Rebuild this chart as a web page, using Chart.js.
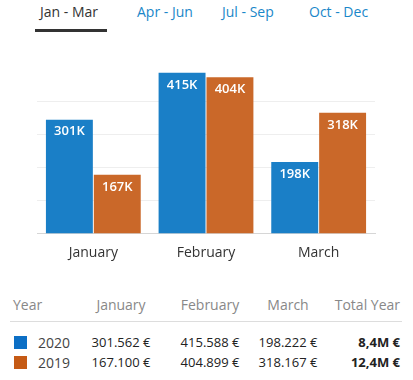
<!DOCTYPE html>
<html>
<head>
<meta charset="utf-8">
<script src="https://cdn.jsdelivr.net/npm/chart.js@4.4.0/dist/chart.umd.min.js"></script>
<style>
  body { margin: 0; width: 413px; height: 380px; background: #fff; font-family: "Open Sans", sans-serif; overflow: hidden; position: relative; }
  .tabs { position: absolute; top: 0; left: 0; width: 413px; height: 34px; }
  .tab { position: absolute; top: 2px; font-size: 14px; color: #1a87c9; white-space: nowrap; }
  .tab.active { color: #333; }
  .tab-line { position: absolute; left: 35px; top: 29px; width: 72px; height: 3px; background: #333; }
  .chart-box { position: absolute; left: 0; top: 40px; width: 413px; height: 224px; }
  table { position: absolute; left: 10px; top: 293px; width: 392px; border-collapse: collapse; table-layout: fixed; font-size: 13px; }
  th { font-weight: normal; font-size: 14px; color: #888; text-align: center; padding: 0 0 6px 0; border-bottom: 1px solid #ddd; height: 22px; }
  th.year { text-align: left; padding-left: 3px; }
  td { text-align: center; color: #222; padding: 0; height: 20px; }
  td.year { text-align: left; color: #444; font-size: 14px; }
  .total { text-align: right; font-weight: bold; padding-right: 2px; }
  tr.first td { padding-top: 10px; }
  .sw { display: inline-block; width: 13px; height: 13px; margin: 0 11px 0 4px; vertical-align: -1px; }
</style>
</head>
<body>
<div class="tabs" id="tabs"></div>
<div class="chart-box"><canvas id="quarterChart"></canvas></div>
<table id="yearTable"></table>
<script>
const tabs = ['Jan - Mar', 'Apr - Jun', 'Jul - Sep', 'Oct - Dec'];
const months = ['January', 'February', 'March'];
const years = ['2020', '2019'];
const values2020 = [301562, 415588, 198222];
const values2019 = [167100, 404899, 318167];
const totals = ['8,4M €', '12,4M €'];
const yTicks = [25000, 105000, 185000, 265000, 345000, 425000];

const barColors = ['#1a7fc7', '#ca6829'];
const swatchColors = ['#0c6fc5', '#c55a15'];

// tabs on top
const tabLeft = [40, 137, 222, 309];
const tabsEl = document.getElementById('tabs');
tabs.forEach((t, i) => {
  const el = document.createElement('div');
  el.className = 'tab' + (i === 0 ? ' active' : '');
  el.style.left = tabLeft[i] + 'px';
  el.textContent = t;
  tabsEl.appendChild(el);
});
const line = document.createElement('div');
line.className = 'tab-line';
tabsEl.appendChild(line);

// white labels inside the bar tops (values are cut, not rounded: 301.562 -> 301K)
const barLabels = {
  id: 'barLabels',
  afterDatasetsDraw(chart) {
    const ctx = chart.ctx;
    ctx.save();
    ctx.fillStyle = '#fff';
    ctx.font = '600 13px "Open Sans", sans-serif';
    ctx.textAlign = 'center';
    ctx.textBaseline = 'middle';
    chart.data.datasets.forEach((ds, di) => {
      chart.getDatasetMeta(di).data.forEach((bar, i) => {
        ctx.fillText(Math.floor(ds.data[i] / 1000) + 'K', bar.x, bar.y + 12);
      });
    });
    ctx.restore();
  }
};

new Chart(document.getElementById('quarterChart'), {
  type: 'bar',
  data: {
    labels: months,
    datasets: [
      { label: years[0], data: values2020, backgroundColor: barColors[0] },
      { label: years[1], data: values2019, backgroundColor: barColors[1] }
    ]
  },
  options: {
    responsive: true,
    maintainAspectRatio: false,
    animation: false,
    layout: { padding: { left: 37, right: 38, top: 29, bottom: 0 } },
    categoryPercentage: 0.85,
    barPercentage: 0.98,
    plugins: { legend: { display: false }, tooltip: { enabled: false } },
    scales: {
      x: {
        grid: { display: false },
        border: { color: '#d6d6d6' },
        ticks: { color: '#333', font: { family: 'Open Sans', size: 14 }, padding: 3 }
      },
      y: {
        min: yTicks[0],
        max: yTicks[yTicks.length - 1],
        afterBuildTicks: axis => { axis.ticks = yTicks.map(v => ({ value: v })); },
        ticks: { display: false },
        border: { display: false },
        grid: {
          drawTicks: false,
          color: c => (c.index === 0 || c.index === yTicks.length - 1) ? 'rgba(0,0,0,0)' : '#eeeeee'
        }
      }
    }
  },
  plugins: [barLabels]
});

// table under the chart
const colWidths = [65, 92, 86, 70, 79];
const table = document.getElementById('yearTable');
let html = '<colgroup>' + colWidths.map(w => '<col style="width:' + w + 'px">').join('') + '</colgroup>';
html += '<tr><th class="year">Year</th>' + months.map(m => '<th>' + m + '</th>').join('') + '<th class="total" style="font-weight:normal">Total Year</th></tr>';
const fmt = v => v.toLocaleString('de-DE') + ' €';
[values2020, values2019].forEach((vals, r) => {
  html += '<tr' + (r === 0 ? ' class="first"' : '') + '><td class="year"><span class="sw" style="background:' + swatchColors[r] + '"></span>' + years[r] + '</td>' +
    vals.map(v => '<td>' + fmt(v) + '</td>').join('') +
    '<td class="total">' + totals[r] + '</td></tr>';
});
table.innerHTML = html;
</script>
</body>
</html>
